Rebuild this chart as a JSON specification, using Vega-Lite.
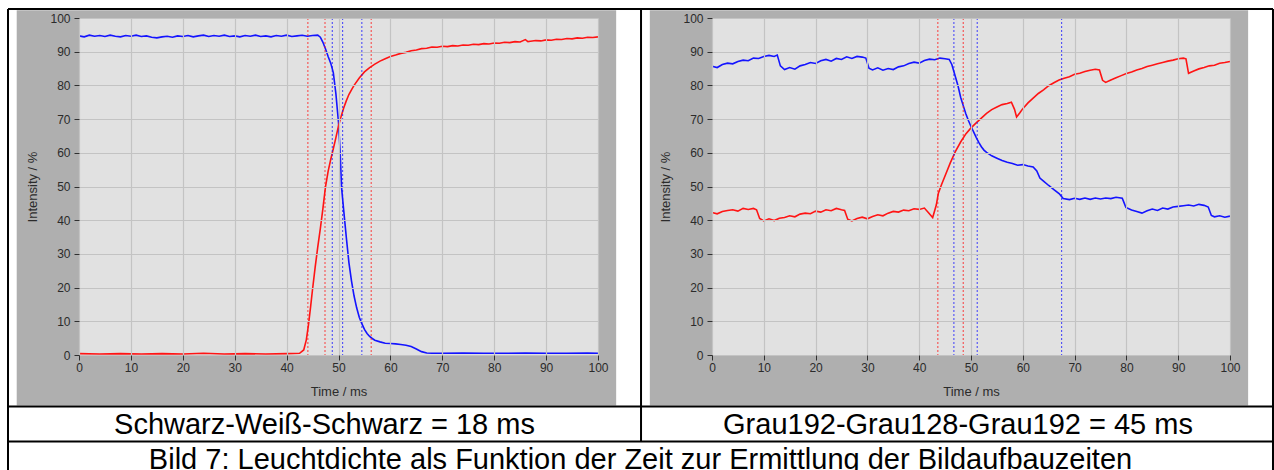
{
  "$schema": "https://vega.github.io/schema/vega-lite/v6.json",
  "autosize": {"type": "none"},
  "padding": {"left": 79, "top": 18, "right": 1195, "bottom": 452},
  "background": "#ffffff",
  "title": {
    "text": "Bild 7: Leuchtdichte als Funktion der Zeit zur Ermittlung der Bildaufbauzeiten",
    "orient": "bottom", "anchor": "middle", "baseline": "alphabetic", "offset": -12
  },
  "spacing": 114,
  "bounds": "flush",
  "datasets": {
    "kurven": [
      {"panel":"L","series":"fallend","t":0,"v":94.7},{"panel":"L","series":"fallend","t":1,"v":94.4},{"panel":"L","series":"fallend","t":2,"v":94.9},{"panel":"L","series":"fallend","t":3,"v":94.6},{"panel":"L","series":"fallend","t":4,"v":94.8},{"panel":"L","series":"fallend","t":5,"v":94.5},{"panel":"L","series":"fallend","t":6,"v":94.9},{"panel":"L","series":"fallend","t":7,"v":94.6},{"panel":"L","series":"fallend","t":8,"v":94.4},{"panel":"L","series":"fallend","t":9,"v":94.8},{"panel":"L","series":"fallend","t":10,"v":94.6},{"panel":"L","series":"fallend","t":11,"v":94.9},{"panel":"L","series":"fallend","t":12,"v":94.5},{"panel":"L","series":"fallend","t":13,"v":94.7},{"panel":"L","series":"fallend","t":14,"v":94.3},{"panel":"L","series":"fallend","t":15,"v":94.1},{"panel":"L","series":"fallend","t":16,"v":94.4},{"panel":"L","series":"fallend","t":17,"v":94.6},{"panel":"L","series":"fallend","t":18,"v":94.3},{"panel":"L","series":"fallend","t":19,"v":94.7},{"panel":"L","series":"fallend","t":20,"v":94.5},{"panel":"L","series":"fallend","t":21,"v":94.8},{"panel":"L","series":"fallend","t":22,"v":94.4},{"panel":"L","series":"fallend","t":23,"v":94.7},{"panel":"L","series":"fallend","t":24,"v":94.9},{"panel":"L","series":"fallend","t":25,"v":94.5},{"panel":"L","series":"fallend","t":26,"v":94.8},{"panel":"L","series":"fallend","t":27,"v":94.6},{"panel":"L","series":"fallend","t":28,"v":94.9},{"panel":"L","series":"fallend","t":29,"v":94.5},{"panel":"L","series":"fallend","t":30,"v":94.7},{"panel":"L","series":"fallend","t":31,"v":94.4},{"panel":"L","series":"fallend","t":32,"v":94.8},{"panel":"L","series":"fallend","t":33,"v":94.6},{"panel":"L","series":"fallend","t":34,"v":94.9},{"panel":"L","series":"fallend","t":35,"v":94.5},{"panel":"L","series":"fallend","t":36,"v":94.7},{"panel":"L","series":"fallend","t":37,"v":94.4},{"panel":"L","series":"fallend","t":38,"v":94.8},{"panel":"L","series":"fallend","t":39,"v":94.6},{"panel":"L","series":"fallend","t":40,"v":94.9},{"panel":"L","series":"fallend","t":41,"v":94.5},{"panel":"L","series":"fallend","t":42,"v":94.7},{"panel":"L","series":"fallend","t":43,"v":94.9},{"panel":"L","series":"fallend","t":44,"v":94.6},{"panel":"L","series":"fallend","t":45,"v":94.8},{"panel":"L","series":"fallend","t":46,"v":94.9},{"panel":"L","series":"fallend","t":46.5,"v":94.3},{"panel":"L","series":"fallend","t":47,"v":92.8},{"panel":"L","series":"fallend","t":47.5,"v":90.8},{"panel":"L","series":"fallend","t":48,"v":88.6},{"panel":"L","series":"fallend","t":48.5,"v":86.6},{"panel":"L","series":"fallend","t":49,"v":83.8},{"panel":"L","series":"fallend","t":49.5,"v":77.5},{"panel":"L","series":"fallend","t":50,"v":69},{"panel":"L","series":"fallend","t":50.3,"v":60.8},{"panel":"L","series":"fallend","t":50.6,"v":49.5},{"panel":"L","series":"fallend","t":51,"v":43},{"panel":"L","series":"fallend","t":51.5,"v":35},{"panel":"L","series":"fallend","t":52,"v":27.5},{"panel":"L","series":"fallend","t":52.5,"v":22},{"panel":"L","series":"fallend","t":53,"v":17.5},{"panel":"L","series":"fallend","t":53.5,"v":14},{"panel":"L","series":"fallend","t":54,"v":11.2},{"panel":"L","series":"fallend","t":54.5,"v":9.3},{"panel":"L","series":"fallend","t":55,"v":7.6},{"panel":"L","series":"fallend","t":55.5,"v":6.4},{"panel":"L","series":"fallend","t":56,"v":5.5},{"panel":"L","series":"fallend","t":56.5,"v":4.9},{"panel":"L","series":"fallend","t":57,"v":4.4},{"panel":"L","series":"fallend","t":58,"v":3.9},{"panel":"L","series":"fallend","t":59,"v":3.5},{"panel":"L","series":"fallend","t":60,"v":3.4},{"panel":"L","series":"fallend","t":61,"v":3.3},{"panel":"L","series":"fallend","t":62,"v":3.1},{"panel":"L","series":"fallend","t":63,"v":2.9},{"panel":"L","series":"fallend","t":64,"v":2.5},{"panel":"L","series":"fallend","t":65,"v":1.8},{"panel":"L","series":"fallend","t":66,"v":1.0},{"panel":"L","series":"fallend","t":67,"v":0.6},{"panel":"L","series":"fallend","t":68,"v":0.5},{"panel":"L","series":"fallend","t":70,"v":0.5},{"panel":"L","series":"fallend","t":74,"v":0.6},{"panel":"L","series":"fallend","t":78,"v":0.5},{"panel":"L","series":"fallend","t":82,"v":0.5},{"panel":"L","series":"fallend","t":86,"v":0.6},{"panel":"L","series":"fallend","t":90,"v":0.5},{"panel":"L","series":"fallend","t":94,"v":0.5},{"panel":"L","series":"fallend","t":98,"v":0.6},{"panel":"L","series":"fallend","t":100,"v":0.5},

      {"panel":"L","series":"steigend","t":0,"v":0.4},{"panel":"L","series":"steigend","t":4,"v":0.3},{"panel":"L","series":"steigend","t":8,"v":0.4},{"panel":"L","series":"steigend","t":12,"v":0.3},{"panel":"L","series":"steigend","t":16,"v":0.4},{"panel":"L","series":"steigend","t":20,"v":0.3},{"panel":"L","series":"steigend","t":24,"v":0.5},{"panel":"L","series":"steigend","t":28,"v":0.3},{"panel":"L","series":"steigend","t":32,"v":0.4},{"panel":"L","series":"steigend","t":36,"v":0.3},{"panel":"L","series":"steigend","t":40,"v":0.4},{"panel":"L","series":"steigend","t":42.5,"v":0.5},{"panel":"L","series":"steigend","t":43.3,"v":1.5},{"panel":"L","series":"steigend","t":43.8,"v":4.5},{"panel":"L","series":"steigend","t":44.2,"v":8.8},{"panel":"L","series":"steigend","t":44.6,"v":14},{"panel":"L","series":"steigend","t":45,"v":19.5},{"panel":"L","series":"steigend","t":45.5,"v":26},{"panel":"L","series":"steigend","t":46,"v":32},{"panel":"L","series":"steigend","t":46.5,"v":37.5},{"panel":"L","series":"steigend","t":47,"v":43.5},{"panel":"L","series":"steigend","t":47.5,"v":50},{"panel":"L","series":"steigend","t":48,"v":54.5},{"panel":"L","series":"steigend","t":48.5,"v":58},{"panel":"L","series":"steigend","t":49,"v":61.2},{"panel":"L","series":"steigend","t":49.5,"v":64.5},{"panel":"L","series":"steigend","t":50,"v":68},{"panel":"L","series":"steigend","t":50.5,"v":70.8},{"panel":"L","series":"steigend","t":51,"v":73.3},{"panel":"L","series":"steigend","t":51.5,"v":75.4},{"panel":"L","series":"steigend","t":52,"v":77.3},{"panel":"L","series":"steigend","t":52.5,"v":78.7},{"panel":"L","series":"steigend","t":53,"v":80},{"panel":"L","series":"steigend","t":54,"v":82.2},{"panel":"L","series":"steigend","t":55,"v":84},{"panel":"L","series":"steigend","t":56,"v":85.3},{"panel":"L","series":"steigend","t":57,"v":86.3},{"panel":"L","series":"steigend","t":58,"v":87.2},{"panel":"L","series":"steigend","t":59,"v":87.9},{"panel":"L","series":"steigend","t":60,"v":88.6},{"panel":"L","series":"steigend","t":61,"v":89},{"panel":"L","series":"steigend","t":62,"v":89.5},{"panel":"L","series":"steigend","t":63,"v":89.8},{"panel":"L","series":"steigend","t":64,"v":90.3},{"panel":"L","series":"steigend","t":65,"v":90.5},{"panel":"L","series":"steigend","t":66,"v":90.9},{"panel":"L","series":"steigend","t":67,"v":91.0},{"panel":"L","series":"steigend","t":68,"v":91.4},{"panel":"L","series":"steigend","t":69,"v":91.3},{"panel":"L","series":"steigend","t":70,"v":91.6},{"panel":"L","series":"steigend","t":71,"v":91.5},{"panel":"L","series":"steigend","t":72,"v":91.8},{"panel":"L","series":"steigend","t":73,"v":91.7},{"panel":"L","series":"steigend","t":74,"v":92.0},{"panel":"L","series":"steigend","t":75,"v":91.9},{"panel":"L","series":"steigend","t":76,"v":92.2},{"panel":"L","series":"steigend","t":77,"v":92.1},{"panel":"L","series":"steigend","t":78,"v":92.4},{"panel":"L","series":"steigend","t":79,"v":92.3},{"panel":"L","series":"steigend","t":80,"v":92.6},{"panel":"L","series":"steigend","t":81,"v":92.5},{"panel":"L","series":"steigend","t":82,"v":92.8},{"panel":"L","series":"steigend","t":83,"v":92.7},{"panel":"L","series":"steigend","t":84,"v":93.0},{"panel":"L","series":"steigend","t":85,"v":92.9},{"panel":"L","series":"steigend","t":86,"v":93.6},{"panel":"L","series":"steigend","t":86.5,"v":93.0},{"panel":"L","series":"steigend","t":87,"v":93.1},{"panel":"L","series":"steigend","t":88,"v":93.3},{"panel":"L","series":"steigend","t":89,"v":93.2},{"panel":"L","series":"steigend","t":90,"v":93.5},{"panel":"L","series":"steigend","t":91,"v":93.4},{"panel":"L","series":"steigend","t":92,"v":93.7},{"panel":"L","series":"steigend","t":93,"v":93.6},{"panel":"L","series":"steigend","t":94,"v":93.9},{"panel":"L","series":"steigend","t":95,"v":93.8},{"panel":"L","series":"steigend","t":96,"v":94.1},{"panel":"L","series":"steigend","t":97,"v":94.0},{"panel":"L","series":"steigend","t":98,"v":94.3},{"panel":"L","series":"steigend","t":99,"v":94.2},{"panel":"L","series":"steigend","t":100,"v":94.4},

      {"panel":"R","series":"fallend","t":0,"v":85.7},{"panel":"R","series":"fallend","t":1,"v":85.3},{"panel":"R","series":"fallend","t":2,"v":86.2},{"panel":"R","series":"fallend","t":3,"v":86.6},{"panel":"R","series":"fallend","t":4,"v":86.4},{"panel":"R","series":"fallend","t":5,"v":87.1},{"panel":"R","series":"fallend","t":6,"v":87.5},{"panel":"R","series":"fallend","t":7,"v":87.3},{"panel":"R","series":"fallend","t":8,"v":88.1},{"panel":"R","series":"fallend","t":9,"v":88.0},{"panel":"R","series":"fallend","t":10,"v":88.6},{"panel":"R","series":"fallend","t":11,"v":88.9},{"panel":"R","series":"fallend","t":12,"v":88.6},{"panel":"R","series":"fallend","t":12.6,"v":89.0},{"panel":"R","series":"fallend","t":13.2,"v":85.8},{"panel":"R","series":"fallend","t":14,"v":84.7},{"panel":"R","series":"fallend","t":15,"v":85.3},{"panel":"R","series":"fallend","t":16,"v":84.8},{"panel":"R","series":"fallend","t":17,"v":85.8},{"panel":"R","series":"fallend","t":18,"v":86.2},{"panel":"R","series":"fallend","t":19,"v":86.8},{"panel":"R","series":"fallend","t":20,"v":86.5},{"panel":"R","series":"fallend","t":21,"v":87.3},{"panel":"R","series":"fallend","t":22,"v":87.7},{"panel":"R","series":"fallend","t":23,"v":87.2},{"panel":"R","series":"fallend","t":24,"v":88.0},{"panel":"R","series":"fallend","t":25,"v":87.7},{"panel":"R","series":"fallend","t":26,"v":88.5},{"panel":"R","series":"fallend","t":27,"v":88.0},{"panel":"R","series":"fallend","t":28,"v":88.6},{"panel":"R","series":"fallend","t":29,"v":88.4},{"panel":"R","series":"fallend","t":29.7,"v":88.1},{"panel":"R","series":"fallend","t":30.3,"v":85.1},{"panel":"R","series":"fallend","t":31,"v":84.6},{"panel":"R","series":"fallend","t":32,"v":85.2},{"panel":"R","series":"fallend","t":33,"v":84.5},{"panel":"R","series":"fallend","t":34,"v":85.0},{"panel":"R","series":"fallend","t":35,"v":84.7},{"panel":"R","series":"fallend","t":36,"v":85.5},{"panel":"R","series":"fallend","t":37,"v":85.8},{"panel":"R","series":"fallend","t":38,"v":86.5},{"panel":"R","series":"fallend","t":39,"v":86.9},{"panel":"R","series":"fallend","t":40,"v":86.6},{"panel":"R","series":"fallend","t":41,"v":87.4},{"panel":"R","series":"fallend","t":42,"v":87.8},{"panel":"R","series":"fallend","t":43,"v":87.6},{"panel":"R","series":"fallend","t":44,"v":88.1},{"panel":"R","series":"fallend","t":45,"v":87.9},{"panel":"R","series":"fallend","t":45.8,"v":87.7},{"panel":"R","series":"fallend","t":46.3,"v":86.2},{"panel":"R","series":"fallend","t":47,"v":82.5},{"panel":"R","series":"fallend","t":47.5,"v":79.8},{"panel":"R","series":"fallend","t":48,"v":76.5},{"panel":"R","series":"fallend","t":48.5,"v":74},{"panel":"R","series":"fallend","t":49,"v":71.6},{"panel":"R","series":"fallend","t":49.5,"v":69.6},{"panel":"R","series":"fallend","t":50,"v":67.8},{"panel":"R","series":"fallend","t":50.5,"v":66.2},{"panel":"R","series":"fallend","t":51,"v":64.6},{"panel":"R","series":"fallend","t":51.5,"v":63.1},{"panel":"R","series":"fallend","t":52,"v":61.8},{"panel":"R","series":"fallend","t":52.5,"v":60.8},{"panel":"R","series":"fallend","t":53,"v":60.1},{"panel":"R","series":"fallend","t":54,"v":59.1},{"panel":"R","series":"fallend","t":55,"v":58.4},{"panel":"R","series":"fallend","t":56,"v":57.7},{"panel":"R","series":"fallend","t":57,"v":57.2},{"panel":"R","series":"fallend","t":58,"v":56.8},{"panel":"R","series":"fallend","t":59,"v":56.3},{"panel":"R","series":"fallend","t":60,"v":56.5},{"panel":"R","series":"fallend","t":61,"v":56.1},{"panel":"R","series":"fallend","t":62,"v":55.8},{"panel":"R","series":"fallend","t":62.7,"v":54.6},{"panel":"R","series":"fallend","t":63.3,"v":52.5},{"panel":"R","series":"fallend","t":64,"v":51.6},{"panel":"R","series":"fallend","t":65,"v":50.3},{"panel":"R","series":"fallend","t":66,"v":49.1},{"panel":"R","series":"fallend","t":67,"v":47.9},{"panel":"R","series":"fallend","t":67.8,"v":46.4},{"panel":"R","series":"fallend","t":69,"v":46.1},{"panel":"R","series":"fallend","t":70,"v":46.5},{"panel":"R","series":"fallend","t":71,"v":46.2},{"panel":"R","series":"fallend","t":72,"v":46.6},{"panel":"R","series":"fallend","t":73,"v":46.2},{"panel":"R","series":"fallend","t":74,"v":46.6},{"panel":"R","series":"fallend","t":75,"v":46.3},{"panel":"R","series":"fallend","t":76,"v":46.6},{"panel":"R","series":"fallend","t":77,"v":46.4},{"panel":"R","series":"fallend","t":78,"v":46.8},{"panel":"R","series":"fallend","t":79.2,"v":46.5},{"panel":"R","series":"fallend","t":79.9,"v":43.8},{"panel":"R","series":"fallend","t":81,"v":43.0},{"panel":"R","series":"fallend","t":82,"v":42.6},{"panel":"R","series":"fallend","t":83,"v":42.1},{"panel":"R","series":"fallend","t":84,"v":42.8},{"panel":"R","series":"fallend","t":85,"v":43.3},{"panel":"R","series":"fallend","t":86,"v":42.9},{"panel":"R","series":"fallend","t":87,"v":43.6},{"panel":"R","series":"fallend","t":88,"v":43.3},{"panel":"R","series":"fallend","t":89,"v":43.9},{"panel":"R","series":"fallend","t":90,"v":44.1},{"panel":"R","series":"fallend","t":91,"v":44.3},{"panel":"R","series":"fallend","t":92,"v":44.5},{"panel":"R","series":"fallend","t":93,"v":44.2},{"panel":"R","series":"fallend","t":94,"v":44.7},{"panel":"R","series":"fallend","t":95,"v":44.4},{"panel":"R","series":"fallend","t":95.8,"v":43.9},{"panel":"R","series":"fallend","t":96.4,"v":41.4},{"panel":"R","series":"fallend","t":97,"v":41.0},{"panel":"R","series":"fallend","t":98,"v":41.3},{"panel":"R","series":"fallend","t":99,"v":40.9},{"panel":"R","series":"fallend","t":100,"v":41.2},

      {"panel":"R","series":"steigend","t":0,"v":42.3},{"panel":"R","series":"steigend","t":1,"v":41.9},{"panel":"R","series":"steigend","t":2,"v":42.6},{"panel":"R","series":"steigend","t":3,"v":42.9},{"panel":"R","series":"steigend","t":4,"v":43.1},{"panel":"R","series":"steigend","t":5,"v":42.7},{"panel":"R","series":"steigend","t":6,"v":43.5},{"panel":"R","series":"steigend","t":7,"v":43.2},{"panel":"R","series":"steigend","t":8,"v":43.5},{"panel":"R","series":"steigend","t":8.6,"v":43.1},{"panel":"R","series":"steigend","t":9.2,"v":40.5},{"panel":"R","series":"steigend","t":10,"v":39.8},{"panel":"R","series":"steigend","t":11,"v":40.4},{"panel":"R","series":"steigend","t":12,"v":39.9},{"panel":"R","series":"steigend","t":13,"v":40.6},{"panel":"R","series":"steigend","t":14,"v":40.8},{"panel":"R","series":"steigend","t":15,"v":41.3},{"panel":"R","series":"steigend","t":16,"v":41.0},{"panel":"R","series":"steigend","t":17,"v":41.8},{"panel":"R","series":"steigend","t":18,"v":42.1},{"panel":"R","series":"steigend","t":19,"v":41.9},{"panel":"R","series":"steigend","t":20,"v":42.7},{"panel":"R","series":"steigend","t":21,"v":42.4},{"panel":"R","series":"steigend","t":22,"v":43.1},{"panel":"R","series":"steigend","t":23,"v":42.8},{"panel":"R","series":"steigend","t":24,"v":43.5},{"panel":"R","series":"steigend","t":25,"v":43.1},{"panel":"R","series":"steigend","t":25.6,"v":42.9},{"panel":"R","series":"steigend","t":26.2,"v":40.3},{"panel":"R","series":"steigend","t":27,"v":39.8},{"panel":"R","series":"steigend","t":28,"v":40.5},{"panel":"R","series":"steigend","t":29,"v":40.9},{"panel":"R","series":"steigend","t":30,"v":40.4},{"panel":"R","series":"steigend","t":31,"v":41.1},{"panel":"R","series":"steigend","t":32,"v":41.6},{"panel":"R","series":"steigend","t":33,"v":41.3},{"panel":"R","series":"steigend","t":34,"v":42.1},{"panel":"R","series":"steigend","t":35,"v":42.6},{"panel":"R","series":"steigend","t":36,"v":42.4},{"panel":"R","series":"steigend","t":37,"v":43.0},{"panel":"R","series":"steigend","t":38,"v":42.8},{"panel":"R","series":"steigend","t":39,"v":43.4},{"panel":"R","series":"steigend","t":40,"v":43.2},{"panel":"R","series":"steigend","t":41,"v":43.6},{"panel":"R","series":"steigend","t":41.8,"v":42.2},{"panel":"R","series":"steigend","t":42.6,"v":40.8},{"panel":"R","series":"steigend","t":43.3,"v":44.5},{"panel":"R","series":"steigend","t":43.7,"v":48.0},{"panel":"R","series":"steigend","t":44.3,"v":50.5},{"panel":"R","series":"steigend","t":45,"v":53.2},{"panel":"R","series":"steigend","t":46,"v":57.0},{"panel":"R","series":"steigend","t":47,"v":60.4},{"panel":"R","series":"steigend","t":48,"v":63.2},{"panel":"R","series":"steigend","t":49,"v":65.6},{"panel":"R","series":"steigend","t":50,"v":67.4},{"panel":"R","series":"steigend","t":51,"v":68.9},{"panel":"R","series":"steigend","t":52,"v":70.3},{"panel":"R","series":"steigend","t":53,"v":71.7},{"panel":"R","series":"steigend","t":54,"v":72.8},{"panel":"R","series":"steigend","t":55,"v":73.6},{"panel":"R","series":"steigend","t":56,"v":74.3},{"panel":"R","series":"steigend","t":57,"v":74.6},{"panel":"R","series":"steigend","t":57.8,"v":75.0},{"panel":"R","series":"steigend","t":58.4,"v":72.9},{"panel":"R","series":"steigend","t":58.8,"v":70.6},{"panel":"R","series":"steigend","t":59.4,"v":71.8},{"panel":"R","series":"steigend","t":60,"v":73.1},{"panel":"R","series":"steigend","t":61,"v":74.8},{"panel":"R","series":"steigend","t":62,"v":76.2},{"panel":"R","series":"steigend","t":63,"v":77.6},{"panel":"R","series":"steigend","t":64,"v":78.7},{"panel":"R","series":"steigend","t":65,"v":79.9},{"panel":"R","series":"steigend","t":66,"v":80.8},{"panel":"R","series":"steigend","t":67,"v":81.6},{"panel":"R","series":"steigend","t":68,"v":82.1},{"panel":"R","series":"steigend","t":69,"v":82.6},{"panel":"R","series":"steigend","t":70,"v":83.3},{"panel":"R","series":"steigend","t":71,"v":83.6},{"panel":"R","series":"steigend","t":72,"v":84.1},{"panel":"R","series":"steigend","t":73,"v":84.5},{"panel":"R","series":"steigend","t":74,"v":84.8},{"panel":"R","series":"steigend","t":74.8,"v":84.6},{"panel":"R","series":"steigend","t":75.4,"v":81.5},{"panel":"R","series":"steigend","t":76,"v":80.9},{"panel":"R","series":"steigend","t":77,"v":81.6},{"panel":"R","series":"steigend","t":78,"v":82.3},{"panel":"R","series":"steigend","t":79,"v":82.9},{"panel":"R","series":"steigend","t":80,"v":83.5},{"panel":"R","series":"steigend","t":81,"v":84.0},{"panel":"R","series":"steigend","t":82,"v":84.6},{"panel":"R","series":"steigend","t":83,"v":85.0},{"panel":"R","series":"steigend","t":84,"v":85.6},{"panel":"R","series":"steigend","t":85,"v":86.0},{"panel":"R","series":"steigend","t":86,"v":86.4},{"panel":"R","series":"steigend","t":87,"v":86.8},{"panel":"R","series":"steigend","t":88,"v":87.2},{"panel":"R","series":"steigend","t":89,"v":87.5},{"panel":"R","series":"steigend","t":90,"v":87.9},{"panel":"R","series":"steigend","t":91,"v":88.1},{"panel":"R","series":"steigend","t":91.5,"v":87.9},{"panel":"R","series":"steigend","t":92,"v":83.6},{"panel":"R","series":"steigend","t":93,"v":84.3},{"panel":"R","series":"steigend","t":94,"v":84.9},{"panel":"R","series":"steigend","t":95,"v":85.3},{"panel":"R","series":"steigend","t":96,"v":85.8},{"panel":"R","series":"steigend","t":97,"v":86.0},{"panel":"R","series":"steigend","t":98,"v":86.6},{"panel":"R","series":"steigend","t":99,"v":86.8},{"panel":"R","series":"steigend","t":100,"v":87.1}
    ],
    "cursor": [
      {"panel":"L","series":"steigend","t":44.1},{"panel":"L","series":"steigend","t":47.4},{"panel":"L","series":"fallend","t":48.8},{"panel":"L","series":"fallend","t":50.8},{"panel":"L","series":"fallend","t":54.5},{"panel":"L","series":"steigend","t":56.3},
      {"panel":"R","series":"steigend","t":43.6},{"panel":"R","series":"fallend","t":46.7},{"panel":"R","series":"steigend","t":48.5},{"panel":"R","series":"fallend","t":51.2},{"panel":"R","series":"fallend","t":67.5}
    ]
  },
  "hconcat": [
    {
      "width": 519,
      "height": 337,
      "title": {"text": "Schwarz-Weiß-Schwarz = 18 ms", "orient": "bottom", "anchor": "middle", "frame": "group", "baseline": "alphabetic", "offset": -47, "dx": -14},
      "layer": [
        {
          "data": {"name": "kurven"},
          "transform": [{"filter": "datum.panel === 'L'"}],
          "mark": {"type": "line", "strokeWidth": 1.6},
          "encoding": {
            "x": {"field": "t", "type": "quantitative", "scale": {"domain": [0, 100], "nice": false, "zero": false},
                  "axis": {"title": "Time / ms", "zindex": 1, "values": [0, 10, 20, 30, 40, 50, 60, 70, 80, 90, 100], "labelPadding": 2, "titlePadding": 12}},
            "y": {"field": "v", "type": "quantitative", "scale": {"domain": [0, 100], "nice": false, "zero": false},
                  "axis": {"title": "Intensity / %", "zindex": 1, "values": [0, 10, 20, 30, 40, 50, 60, 70, 80, 90, 100], "labelPadding": 4, "titlePadding": 10}},
            "color": {"field": "series", "type": "nominal", "scale": {"domain": ["fallend", "steigend"], "range": ["#1414ff", "#ff1414"]}, "legend": null}
          }
        },
        {
          "data": {"name": "cursor"},
          "transform": [{"filter": "datum.panel === 'L'"}],
          "mark": {"type": "rule", "strokeWidth": 1, "strokeDash": [2, 2], "opacity": 0.8},
          "encoding": {
            "x": {"field": "t", "type": "quantitative", "axis": {"title": "Time / ms", "zindex": 1, "values": [0, 10, 20, 30, 40, 50, 60, 70, 80, 90, 100], "labelPadding": 2, "titlePadding": 12}},
            "color": {"field": "series", "type": "nominal", "scale": {"domain": ["fallend", "steigend"], "range": ["#1414ff", "#ff1414"]}, "legend": null}
          }
        },
        {"data": {"values": [{}]}, "mark": {"type": "rect", "color": "#afafaf"}, "encoding": {"x": {"datum": -12.0, "axis": {"title": "Time / ms", "zindex": 1, "values": [0, 10, 20, 30, 40, 50, 60, 70, 80, 90, 100], "labelPadding": 2, "titlePadding": 12}}, "x2": {"datum": 0}, "y": {"datum": -15.0, "axis": {"title": "Intensity / %", "zindex": 1, "values": [0, 10, 20, 30, 40, 50, 60, 70, 80, 90, 100], "labelPadding": 4, "titlePadding": 10}}, "y2": {"datum": 102.3}}},
        {"data": {"values": [{}]}, "mark": {"type": "rect", "color": "#afafaf"}, "encoding": {"x": {"datum": 100, "axis": {"title": "Time / ms", "zindex": 1, "values": [0, 10, 20, 30, 40, 50, 60, 70, 80, 90, 100], "labelPadding": 2, "titlePadding": 12}}, "x2": {"datum": 103.5}, "y": {"datum": -15.0, "axis": {"title": "Intensity / %", "zindex": 1, "values": [0, 10, 20, 30, 40, 50, 60, 70, 80, 90, 100], "labelPadding": 4, "titlePadding": 10}}, "y2": {"datum": 102.3}}},
        {"data": {"values": [{}]}, "mark": {"type": "rect", "color": "#afafaf"}, "encoding": {"x": {"datum": 0, "axis": {"title": "Time / ms", "zindex": 1, "values": [0, 10, 20, 30, 40, 50, 60, 70, 80, 90, 100], "labelPadding": 2, "titlePadding": 12}}, "x2": {"datum": 100}, "y": {"datum": 100, "axis": {"title": "Intensity / %", "zindex": 1, "values": [0, 10, 20, 30, 40, 50, 60, 70, 80, 90, 100], "labelPadding": 4, "titlePadding": 10}}, "y2": {"datum": 102.3}}},
        {"data": {"values": [{}]}, "mark": {"type": "rect", "color": "#afafaf"}, "encoding": {"x": {"datum": 0, "axis": {"title": "Time / ms", "zindex": 1, "values": [0, 10, 20, 30, 40, 50, 60, 70, 80, 90, 100], "labelPadding": 2, "titlePadding": 12}}, "x2": {"datum": 100}, "y": {"datum": -15.0, "axis": {"title": "Intensity / %", "zindex": 1, "values": [0, 10, 20, 30, 40, 50, 60, 70, 80, 90, 100], "labelPadding": 4, "titlePadding": 10}}, "y2": {"datum": 0}}},
        {"data": {"values": [{}]}, "mark": {"type": "rule", "color": "#000000", "strokeWidth": 2}, "encoding": {"x": {"datum": -13.68, "axis": {"title": "Time / ms", "zindex": 1, "values": [0, 10, 20, 30, 40, 50, 60, 70, 80, 90, 100], "labelPadding": 2, "titlePadding": 12}}, "x2": {"datum": 108.29}, "y": {"datum": 102.67, "axis": {"title": "Intensity / %", "zindex": 1, "values": [0, 10, 20, 30, 40, 50, 60, 70, 80, 90, 100], "labelPadding": 4, "titlePadding": 10}}}},
        {"data": {"values": [{}]}, "mark": {"type": "rule", "color": "#000000", "strokeWidth": 2}, "encoding": {"x": {"datum": -13.68, "axis": {"title": "Time / ms", "zindex": 1, "values": [0, 10, 20, 30, 40, 50, 60, 70, 80, 90, 100], "labelPadding": 2, "titlePadding": 12}}, "x2": {"datum": 108.29}, "y": {"datum": -15.28, "axis": {"title": "Intensity / %", "zindex": 1, "values": [0, 10, 20, 30, 40, 50, 60, 70, 80, 90, 100], "labelPadding": 4, "titlePadding": 10}}}},
        {"data": {"values": [{}]}, "mark": {"type": "rule", "color": "#000000", "strokeWidth": 2}, "encoding": {"x": {"datum": -13.68, "axis": {"title": "Time / ms", "zindex": 1, "values": [0, 10, 20, 30, 40, 50, 60, 70, 80, 90, 100], "labelPadding": 2, "titlePadding": 12}}, "x2": {"datum": 108.29}, "y": {"datum": -25.67, "axis": {"title": "Intensity / %", "zindex": 1, "values": [0, 10, 20, 30, 40, 50, 60, 70, 80, 90, 100], "labelPadding": 4, "titlePadding": 10}}}},
        {"data": {"values": [{}]}, "mark": {"type": "rule", "color": "#000000", "strokeWidth": 2}, "encoding": {"x": {"datum": -13.68, "axis": {"title": "Time / ms", "zindex": 1, "values": [0, 10, 20, 30, 40, 50, 60, 70, 80, 90, 100], "labelPadding": 2, "titlePadding": 12}}, "y": {"datum": 102.67, "axis": {"title": "Intensity / %", "zindex": 1, "values": [0, 10, 20, 30, 40, 50, 60, 70, 80, 90, 100], "labelPadding": 4, "titlePadding": 10}}, "y2": {"datum": -37.1}}},
        {"data": {"values": [{}]}, "mark": {"type": "rule", "color": "#000000", "strokeWidth": 2}, "encoding": {"x": {"datum": 108.29, "axis": {"title": "Time / ms", "zindex": 1, "values": [0, 10, 20, 30, 40, 50, 60, 70, 80, 90, 100], "labelPadding": 2, "titlePadding": 12}}, "y": {"datum": 102.67, "axis": {"title": "Intensity / %", "zindex": 1, "values": [0, 10, 20, 30, 40, 50, 60, 70, 80, 90, 100], "labelPadding": 4, "titlePadding": 10}}, "y2": {"datum": -25.67}}}
      ]
    },
    {
      "width": 518,
      "height": 337,
      "title": {"text": "Grau192-Grau128-Grau192 = 45 ms", "orient": "bottom", "anchor": "middle", "frame": "group", "baseline": "alphabetic", "offset": -47, "dx": -13},
      "layer": [
        {
          "data": {"name": "kurven"},
          "transform": [{"filter": "datum.panel === 'R'"}],
          "mark": {"type": "line", "strokeWidth": 1.6},
          "encoding": {
            "x": {"field": "t", "type": "quantitative", "scale": {"domain": [0, 100], "nice": false, "zero": false},
                  "axis": {"title": "Time / ms", "zindex": 1, "values": [0, 10, 20, 30, 40, 50, 60, 70, 80, 90, 100], "labelPadding": 2, "titlePadding": 12}},
            "y": {"field": "v", "type": "quantitative", "scale": {"domain": [0, 100], "nice": false, "zero": false},
                  "axis": {"title": "Intensity / %", "zindex": 1, "values": [0, 10, 20, 30, 40, 50, 60, 70, 80, 90, 100], "labelPadding": 4, "titlePadding": 10}},
            "color": {"field": "series", "type": "nominal", "scale": {"domain": ["fallend", "steigend"], "range": ["#1414ff", "#ff1414"]}, "legend": null}
          }
        },
        {
          "data": {"name": "cursor"},
          "transform": [{"filter": "datum.panel === 'R'"}],
          "mark": {"type": "rule", "strokeWidth": 1, "strokeDash": [2, 2], "opacity": 0.8},
          "encoding": {
            "x": {"field": "t", "type": "quantitative", "axis": {"title": "Time / ms", "zindex": 1, "values": [0, 10, 20, 30, 40, 50, 60, 70, 80, 90, 100], "labelPadding": 2, "titlePadding": 12}},
            "color": {"field": "series", "type": "nominal", "scale": {"domain": ["fallend", "steigend"], "range": ["#1414ff", "#ff1414"]}, "legend": null}
          }
        },
        {"data": {"values": [{}]}, "mark": {"type": "rect", "color": "#afafaf"}, "encoding": {"x": {"datum": -12.0, "axis": {"title": "Time / ms", "zindex": 1, "values": [0, 10, 20, 30, 40, 50, 60, 70, 80, 90, 100], "labelPadding": 2, "titlePadding": 12}}, "x2": {"datum": 0}, "y": {"datum": -15.0, "axis": {"title": "Intensity / %", "zindex": 1, "values": [0, 10, 20, 30, 40, 50, 60, 70, 80, 90, 100], "labelPadding": 4, "titlePadding": 10}}, "y2": {"datum": 102.3}}},
        {"data": {"values": [{}]}, "mark": {"type": "rect", "color": "#afafaf"}, "encoding": {"x": {"datum": 100, "axis": {"title": "Time / ms", "zindex": 1, "values": [0, 10, 20, 30, 40, 50, 60, 70, 80, 90, 100], "labelPadding": 2, "titlePadding": 12}}, "x2": {"datum": 103.5}, "y": {"datum": -15.0, "axis": {"title": "Intensity / %", "zindex": 1, "values": [0, 10, 20, 30, 40, 50, 60, 70, 80, 90, 100], "labelPadding": 4, "titlePadding": 10}}, "y2": {"datum": 102.3}}},
        {"data": {"values": [{}]}, "mark": {"type": "rect", "color": "#afafaf"}, "encoding": {"x": {"datum": 0, "axis": {"title": "Time / ms", "zindex": 1, "values": [0, 10, 20, 30, 40, 50, 60, 70, 80, 90, 100], "labelPadding": 2, "titlePadding": 12}}, "x2": {"datum": 100}, "y": {"datum": 100, "axis": {"title": "Intensity / %", "zindex": 1, "values": [0, 10, 20, 30, 40, 50, 60, 70, 80, 90, 100], "labelPadding": 4, "titlePadding": 10}}, "y2": {"datum": 102.3}}},
        {"data": {"values": [{}]}, "mark": {"type": "rect", "color": "#afafaf"}, "encoding": {"x": {"datum": 0, "axis": {"title": "Time / ms", "zindex": 1, "values": [0, 10, 20, 30, 40, 50, 60, 70, 80, 90, 100], "labelPadding": 2, "titlePadding": 12}}, "x2": {"datum": 100}, "y": {"datum": -15.0, "axis": {"title": "Intensity / %", "zindex": 1, "values": [0, 10, 20, 30, 40, 50, 60, 70, 80, 90, 100], "labelPadding": 4, "titlePadding": 10}}, "y2": {"datum": 0}}},
        {"data": {"values": [{}]}, "mark": {"type": "rule", "color": "#000000", "strokeWidth": 2}, "encoding": {"x": {"datum": -13.71, "axis": {"title": "Time / ms", "zindex": 1, "values": [0, 10, 20, 30, 40, 50, 60, 70, 80, 90, 100], "labelPadding": 2, "titlePadding": 12}}, "x2": {"datum": 108.3}, "y": {"datum": 102.67, "axis": {"title": "Intensity / %", "zindex": 1, "values": [0, 10, 20, 30, 40, 50, 60, 70, 80, 90, 100], "labelPadding": 4, "titlePadding": 10}}}},
        {"data": {"values": [{}]}, "mark": {"type": "rule", "color": "#000000", "strokeWidth": 2}, "encoding": {"x": {"datum": -13.71, "axis": {"title": "Time / ms", "zindex": 1, "values": [0, 10, 20, 30, 40, 50, 60, 70, 80, 90, 100], "labelPadding": 2, "titlePadding": 12}}, "x2": {"datum": 108.3}, "y": {"datum": -15.28, "axis": {"title": "Intensity / %", "zindex": 1, "values": [0, 10, 20, 30, 40, 50, 60, 70, 80, 90, 100], "labelPadding": 4, "titlePadding": 10}}}},
        {"data": {"values": [{}]}, "mark": {"type": "rule", "color": "#000000", "strokeWidth": 2}, "encoding": {"x": {"datum": -13.71, "axis": {"title": "Time / ms", "zindex": 1, "values": [0, 10, 20, 30, 40, 50, 60, 70, 80, 90, 100], "labelPadding": 2, "titlePadding": 12}}, "x2": {"datum": 108.3}, "y": {"datum": -25.67, "axis": {"title": "Intensity / %", "zindex": 1, "values": [0, 10, 20, 30, 40, 50, 60, 70, 80, 90, 100], "labelPadding": 4, "titlePadding": 10}}}},
        {"data": {"values": [{}]}, "mark": {"type": "rule", "color": "#000000", "strokeWidth": 2}, "encoding": {"x": {"datum": 108.3, "axis": {"title": "Time / ms", "zindex": 1, "values": [0, 10, 20, 30, 40, 50, 60, 70, 80, 90, 100], "labelPadding": 2, "titlePadding": 12}}, "y": {"datum": 102.67, "axis": {"title": "Intensity / %", "zindex": 1, "values": [0, 10, 20, 30, 40, 50, 60, 70, 80, 90, 100], "labelPadding": 4, "titlePadding": 10}}, "y2": {"datum": -37.1}}}
      ]
    }
  ],
  "config": {
    "view": {"fill": "#e1e1e1", "stroke": null},
    "font": "Liberation Sans",
    "axis": {
      "domain": false, "grid": true, "gridColor": "#c3c3c3", "gridWidth": 1.2,
      "tickColor": "#303030", "tickSize": 5, "labelFlush": false, "labelOverlap": false,
      "labelFont": "Liberation Sans", "labelFontSize": 12, "labelColor": "#2b2b2b",
      "titleFont": "Liberation Sans", "titleFontSize": 13, "titleFontWeight": "normal", "titleColor": "#2b2b2b"
    },
    "title": {"font": "Liberation Sans", "fontSize": 29, "fontWeight": "normal", "color": "#000000"}
  }
}
